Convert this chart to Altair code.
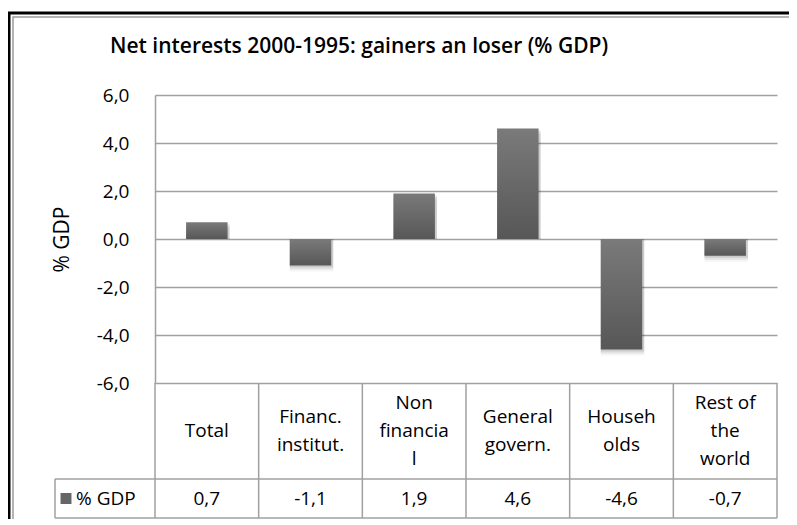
import altair as alt
import pandas as pd

# ---- data ----
categories = ["Total", "Financ.\ninstitut.", "Non\nfinancia\nl", "General\ngovern.", "Househ\nolds", "Rest of\nthe\nworld"]
values = [0.7, -1.1, 1.9, 4.6, -4.6, -0.7]
series_name = ["% GDP"]
y_ticks = [-6, -4, -2, 0, 2, 4, 6]
chart_title = ["Net interests 2000-1995: gainers an loser (% GDP)"]
y_title = "% GDP"

df = pd.DataFrame({"cat": categories, "value": values})
df["label"] = [f"{v:.1f}".replace(".", ",") for v in values]
one = pd.DataFrame({"series": series_name})
tdf = pd.DataFrame({"title": chart_title})

# ---- layout / style ----
FONT = "Open Sans"
GRID = "#a0a0a0"
W = 622
PLOT_H = 288
ROW1 = 384
ROW2 = 423
LEG_X = -100
LINE_H = 28

xscale = alt.Scale(paddingInner=0, paddingOuter=0)
xenc = alt.X("cat:N", sort=categories, scale=xscale, axis=None)
xedge = alt.X("cat:N", sort=categories, scale=xscale, axis=None, bandPosition=1)
yscale = alt.Scale(domain=[-6, 6], range=[PLOT_H, 0], nice=False, zero=False)
yaxis = alt.Axis(
    values=y_ticks,
    labelExpr="(datum.value < 0 ? '-' : '') + replace(format(abs(datum.value), '.1f'), '.', ',')",
    ticks=False,
    labelPadding=26,
    labelFont=FONT,
    labelFontSize=19,
    labelColor="black",
    grid=True,
    gridColor=GRID,
    gridWidth=1.5,
    domainColor=GRID,
    domainWidth=1.5,
    title=y_title,
    titleFont=FONT,
    titleFontSize=21,
    titleFontWeight="normal",
    titleColor="black",
    titleAngle=270,
    titleAlign="center",
    titleBaseline="middle",
    titleX=-93,
    titleY=144,
)
yenc = alt.Y("value:Q", scale=yscale, axis=yaxis)

bar_grad = alt.Gradient(
    gradient="linear",
    stops=[alt.GradientStop(color="#7a7a7a", offset=0), alt.GradientStop(color="#575757", offset=1)],
    x1=0, x2=0, y1=0, y2=1,
)

base = alt.Chart(df)

# frame around the whole picture
frame_outer = alt.Chart(one).mark_rect(fillOpacity=0, stroke="black", strokeWidth=3).encode(
    x=alt.value(-146), x2=alt.value(700), y=alt.value(-82), y2=alt.value(520)
)
frame_inner = alt.Chart(one).mark_rect(fillOpacity=0, stroke="#9a9a9a", strokeWidth=1.5).encode(
    x=alt.value(-142), x2=alt.value(700), y=alt.value(-78), y2=alt.value(520)
)

title = alt.Chart(tdf).mark_text(
    align="left", baseline="middle", font=FONT, fontSize=21, fontWeight=600, color="black"
).encode(x=alt.value(-45), y=alt.value(-48), text="title:N")

shadows = [
    base.mark_bar(width=alt.RelativeBandSize(0.42), color="black", opacity=op, yOffset=off, xOffset=1).encode(
        x=xenc, y=yenc, y2=alt.datum(0)
    )
    for off, op in [(6, 0.04), (4, 0.07), (2, 0.1)]
]

bars = base.mark_bar(width=alt.RelativeBandSize(0.4), color=bar_grad).encode(
    x=xenc, y=yenc, y2=alt.datum(0)
)

# data table under the plot
vlines = base.mark_rule(color=GRID, strokeWidth=1.5).encode(
    x=xedge, y=alt.value(PLOT_H), y2=alt.value(ROW2)
)
left_line = alt.Chart(one).mark_rule(color=GRID, strokeWidth=1.5).encode(
    x=alt.value(0), y=alt.value(PLOT_H), y2=alt.value(ROW2)
)
leg_left = alt.Chart(one).mark_rule(color=GRID, strokeWidth=1.5).encode(
    x=alt.value(LEG_X), y=alt.value(ROW1), y2=alt.value(ROW2)
)
hline1 = alt.Chart(one).mark_rule(color=GRID, strokeWidth=1.5).encode(
    x=alt.value(LEG_X), x2=alt.value(W), y=alt.value(ROW1)
)
hline2 = alt.Chart(one).mark_rule(color=GRID, strokeWidth=1.5).encode(
    x=alt.value(LEG_X), x2=alt.value(W), y=alt.value(ROW2)
)

# category labels: first line placed so that the block is centred in the cell
cell_mid = (PLOT_H + ROW1) / 2
cat_layers = []
for n_lines in (1, 2, 3):
    cat_layers.append(
        base.transform_calculate(nl="length(split(datum.cat, '\\n'))")
        .transform_filter(alt.datum.nl == n_lines)
        .mark_text(font=FONT, fontSize=19, lineBreak="\n", lineHeight=LINE_H,
                   baseline="middle", align="center", color="black")
        .encode(x=xenc, y=alt.value(cell_mid - (n_lines - 1) * LINE_H / 2), text="cat:N")
    )

val_text = base.mark_text(
    font=FONT, fontSize=19, baseline="middle", align="center", color="black"
).encode(x=xenc, y=alt.value((ROW1 + ROW2) / 2), text="label:N")

leg_square = alt.Chart(one).mark_square(size=120, color="#666666", opacity=1).encode(
    x=alt.value(LEG_X + 11), y=alt.value((ROW1 + ROW2) / 2)
)
leg_text = alt.Chart(one).mark_text(
    font=FONT, fontSize=19, baseline="middle", align="left", color="black"
).encode(x=alt.value(LEG_X + 21), y=alt.value((ROW1 + ROW2) / 2), text="series:N")

chart = alt.layer(
    frame_outer, frame_inner, title, *shadows, bars,
    vlines, left_line, leg_left, hline1, hline2,
    *cat_layers, val_text, leg_square, leg_text,
).properties(
    width=W,
    height=ROW2,
    autosize=alt.AutoSizeParams(type="none"),
    padding={"left": 147, "top": 87, "right": 12, "bottom": 1},
    background="white",
).configure_view(strokeWidth=0)

chart.save("out.html", embed_options={"renderer": "svg", "actions": False})
